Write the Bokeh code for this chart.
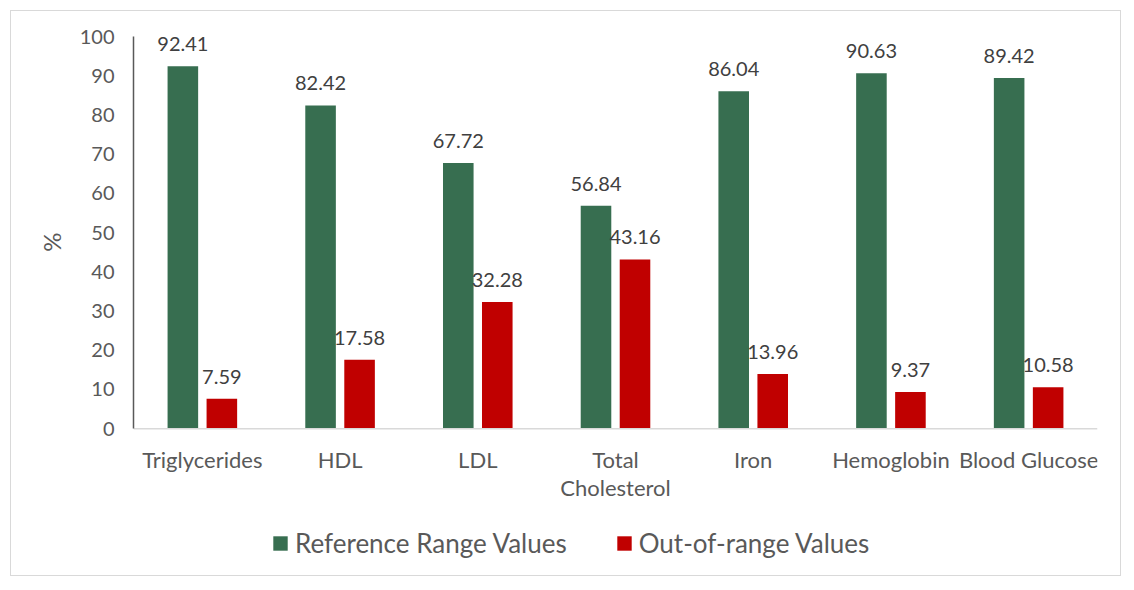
import math
from bokeh.plotting import figure
from bokeh.models import ColumnDataSource, FactorRange, Legend, LegendItem, LinearAxis, FixedTicker
from bokeh.transform import dodge
from bokeh.core.properties import value
from bokeh.embed import file_html
from bokeh.resources import INLINE

categories = ["Triglycerides", "HDL", "LDL", "Total Cholesterol", "Iron", "Hemoglobin", "Blood Glucose"]
label_line1 = ["Triglycerides", "HDL", "LDL", "Total", "Iron", "Hemoglobin", "Blood Glucose"]
label_line2 = ["", "", "", "Cholesterol", "", "", ""]
reference_range = [92.41, 82.42, 67.72, 56.84, 86.04, 90.63, 89.42]
out_of_range = [7.59, 17.58, 32.28, 43.16, 13.96, 9.37, 10.58]
y_ticks = [0, 10, 20, 30, 40, 50, 60, 70, 80, 90, 100]

GREEN = "#376E50"
RED = "#C00000"
FONT = "Lato"
GREY = "#595959"

src = ColumnDataSource(data=dict(
    cat=categories,
    ref=reference_range,
    out=out_of_range,
    ref_lbl=[f"{v:.2f}" for v in reference_range],
    out_lbl=[f"{v:.2f}" for v in out_of_range],
    l1=label_line1,
    l2=label_line2,
    zero=[0] * len(categories),
))
edges = ColumnDataSource(data=dict(first=[categories[0]], last=[categories[-1]]))

# frame: value 100 at top, extra room below zero for category labels and legend
p = figure(
    x_range=FactorRange(factors=categories, range_padding=0),
    y_range=(-35.67, 100),
    width=1111, height=566,
    output_backend="svg", toolbar_location=None,
    x_axis_location=None,
    min_border_left=122, min_border_right=25, min_border_top=25, min_border_bottom=9,
)
p.margin = (10, 0, 0, 10)
p.styles = {"border": "1px solid #d9d9d9"}
p.outline_line_color = None
p.grid.grid_line_color = None

off = 0.1416
bw = 0.222
r1 = p.vbar(x=dodge("cat", -off, range=p.x_range), top="ref", width=bw, source=src,
            fill_color=GREEN, line_color=None)
r2 = p.vbar(x=dodge("cat", off, range=p.x_range), top="out", width=bw, source=src,
            fill_color=RED, line_color=None)

# baseline (category axis line)
p.segment(x0=dodge("first", -0.5, range=p.x_range), x1=dodge("last", 0.5, range=p.x_range),
          y0=0, y1=0, source=edges, line_color="#d9d9d9", line_width=1.5)

# data labels
p.text(x=dodge("cat", -off, range=p.x_range), y="ref", text="ref_lbl", source=src,
       text_align="center", text_baseline="alphabetic", y_offset=-22,
       text_font=value(FONT), text_font_size="20px", text_color="#404040")
p.text(x=dodge("cat", off, range=p.x_range), y="out", text="out_lbl", source=src,
       text_align="center", text_baseline="alphabetic", y_offset=-22,
       text_font=value(FONT), text_font_size="20px", text_color="#404040")

# category labels
p.text(x="cat", y="zero", text="l1", source=src, text_align="center", text_baseline="middle",
       y_offset=31, text_font=value(FONT), text_font_size="22px", text_color=GREY)
p.text(x="cat", y="zero", text="l2", source=src, text_align="center", text_baseline="middle",
       y_offset=59, text_font=value(FONT), text_font_size="22px", text_color=GREY)

# y axis
ya = p.yaxis[0]
ya.ticker = y_ticks
ya.bounds = (y_ticks[0], y_ticks[-1])
ya.axis_line_color = GREY
ya.axis_line_width = 1.5
ya.major_tick_line_color = None
ya.minor_tick_line_color = None
ya.major_tick_out = 0
ya.major_label_standoff = 19
ya.major_label_text_font = FONT
ya.major_label_text_font_size = "20px"
ya.major_label_text_color = GREY

# "%" title, centred on the 0-100 span
mid = (y_ticks[0] + y_ticks[-1]) / 2
ya2 = LinearAxis(ticker=FixedTicker(ticks=[mid]), major_label_overrides={mid: "%"})
ya2.axis_line_color = None
ya2.major_tick_line_color = None
ya2.minor_tick_line_color = None
ya2.major_tick_out = 0
ya2.major_tick_in = 0
ya2.major_label_orientation = math.pi / 2
ya2.major_label_standoff = 25
ya2.major_label_text_font = FONT
ya2.major_label_text_font_size = "24px"
ya2.major_label_text_color = GREY
p.add_layout(ya2, "left")

legend = Legend(
    items=[LegendItem(label="Reference Range Values", renderers=[r1]),
           LegendItem(label="Out-of-range Values", renderers=[r2])],
    orientation="horizontal", location=(138, 9),
    border_line_color=None, background_fill_alpha=0,
    label_text_font=FONT, label_text_font_size="26px", label_text_color=GREY,
    glyph_width=18, glyph_height=18, label_standoff=6, spacing=48,
    padding=0, margin=0,
)
p.add_layout(legend, "center")

open("out.html", "w").write(file_html(p, INLINE))
